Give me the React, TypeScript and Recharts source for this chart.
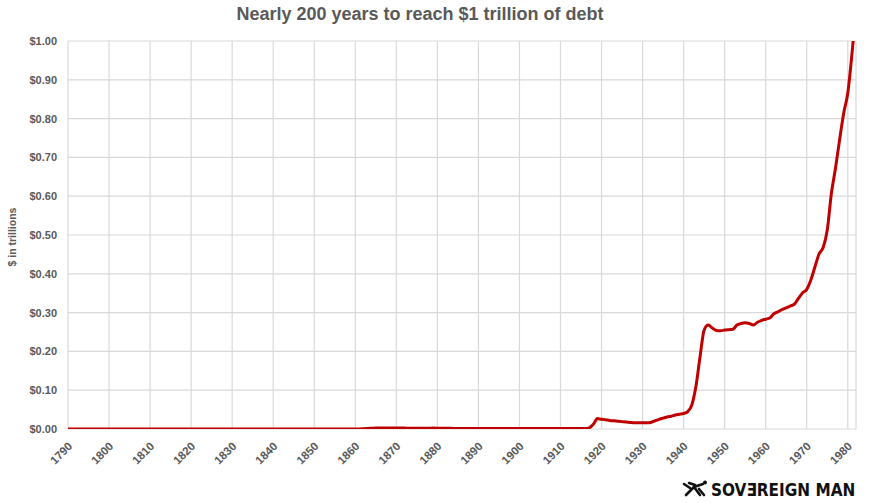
import React from 'react';
import { LineChart, Line, XAxis, YAxis, CartesianGrid } from 'recharts';

// US federal debt, $ trillions, one value per year starting 1790
const debtEarly = [
  0.0001, 0.0001, 0.0001, 0.0001, 0.0001, 0.0001, 0.0001, 0.0001, 0.0001, 0.0001, // 1790s
  0.0001, 0.0001, 0.0001, 0.0001, 0.0001, 0.0001, 0.0001, 0.0001, 0.0001, 0.0001, // 1800s
  0.0000, 0.0000, 0.0001, 0.0001, 0.0001, 0.0001, 0.0001, 0.0001, 0.0001, 0.0001, // 1810s
  0.0001, 0.0001, 0.0001, 0.0001, 0.0001, 0.0001, 0.0001, 0.0001, 0.0001, 0.0000, // 1820s
  0.0000, 0.0000, 0.0000, 0.0000, 0.0000, 0.0000, 0.0000, 0.0000, 0.0000, 0.0000, // 1830s
  0.0000, 0.0000, 0.0000, 0.0000, 0.0000, 0.0000, 0.0000, 0.0000, 0.0000, 0.0001, // 1840s
  0.0001, 0.0001, 0.0001, 0.0001, 0.0000, 0.0000, 0.0000, 0.0000, 0.0000, 0.0001, // 1850s
  0.0001, // 1860
];
const debtCivilWarEra = [
  0.0001, 0.0005, 0.0011, 0.0018, 0.0027, 0.0028, 0.0027, 0.0026, 0.0026, // 1861-1869
  0.0025, 0.0023, 0.0023, 0.0022, 0.0022, 0.0022, 0.0021, 0.0021, 0.0022, 0.0023, // 1870s
  0.0021, 0.002, 0.0019, 0.0017, 0.0016, 0.0016, 0.0015, 0.0013, 0.0012, 0.0011, // 1880s
  0.0011, 0.001, 0.001, 0.001, 0.001, 0.0011, 0.0012, 0.0012, 0.0012, 0.0014, // 1890s
  0.0013, 0.0012, 0.0012, 0.0012, 0.0012, 0.0012, 0.0011, 0.0011, 0.0012, 0.0012, // 1900s
  0.0011, 0.0012, 0.0012, 0.0012, 0.0012, 0.0012, 0.0012, // 1910-1916
];
const debtWorldWarEra = [
  0.003, 0.012, 0.027, // 1917-1919
  0.025, 0.024, 0.022, 0.021, 0.02, 0.019, 0.018, 0.017, 0.016, 0.016, // 1920s
  0.016, 0.016, 0.017, 0.021, 0.025, 0.028, 0.031, 0.033, 0.036, 0.038, // 1930s
  0.04, 0.045, 0.062, 0.11, 0.186, 0.255, // 1940-1945
];
const debtPostwar = [
  0.268, 0.26, 0.254, 0.253, // 1946-1949
  0.255, 0.256, 0.257, 0.268, 0.272, 0.274, 0.272, 0.268, 0.275, 0.28, // 1950s
  0.283, 0.286, 0.297, 0.302, 0.308, 0.312, 0.317, 0.322, 0.337, 0.351, // 1960s
  0.36, 0.384, 0.418, 0.451, 0.468, 0.513, 0.607, 0.672, 0.745, 0.814, // 1970s
  0.866, 0.965, 1.08, // 1980-1982
];

const firstYear = 1790;
const xTicks = [1790, 1800, 1810, 1820, 1830, 1840, 1850, 1860, 1870, 1880, 1890, 1900, 1910, 1920, 1930, 1940, 1950, 1960, 1970, 1980];
const yTicks = [0, 0.1, 0.2, 0.3, 0.4, 0.5, 0.6, 0.7, 0.8, 0.9, 1.0];

const chartData = [...debtEarly, ...debtCivilWarEra, ...debtWorldWarEra, ...debtPostwar].map((debt, i) => ({
  year: firstYear + i,
  debt,
}));

const FONT = '"Liberation Sans", Arial, sans-serif';
const GRAY = '#595959';

const YearTick = ({ x, y, payload }: any) => (
  <g transform={`translate(${x + 5},${y + 10}) rotate(-45)`}>
    <text x={0} y={0} textAnchor="end" fill={GRAY} fontSize={11.5} fontWeight="bold" fontFamily={FONT}>
      {payload.value}
    </text>
  </g>
);

export default function App() {
  return (
    <div style={{ position: 'relative', width: 869, height: 503, background: '#fff' }}>
      <style>{'body{margin:0}'}</style>
      <LineChart width={869} height={503} data={chartData} margin={{ top: 41, right: 13, bottom: 0, left: 0 }}>
        <CartesianGrid stroke="#d9d9d9" strokeWidth={1.2} />
        <XAxis
          dataKey="year"
          type="number"
          domain={[1790, 1982]}
          ticks={xTicks}
          height={74}
          axisLine={false}
          tickLine={false}
          interval={0}
          tick={<YearTick />}
        />
        <YAxis
          type="number"
          domain={[0, 1]}
          ticks={yTicks}
          allowDataOverflow
          width={68}
          axisLine={false}
          tickLine={false}
          tickMargin={5}
          tickFormatter={(v: number) => `$${v.toFixed(2)}`}
          tick={{ fill: GRAY, fontSize: 11, fontWeight: 'bold', fontFamily: FONT }}
        />
        <Line
          type="monotone"
          dataKey="debt"
          stroke="#c00000"
          strokeWidth={3}
          dot={false}
          isAnimationActive={false}
        />
      </LineChart>
      <svg width={869} height={503} style={{ position: 'absolute', left: 0, top: 0, pointerEvents: 'none' }}>
        <text x={420} y={19.5} textAnchor="middle" fill={GRAY} fontSize={18} fontWeight="bold" fontFamily={FONT}>
          Nearly 200 years to reach $1 trillion of debt
        </text>
        <text
          x={0}
          y={0}
          transform="translate(16,237) rotate(-90)"
          textAnchor="middle"
          fill={GRAY}
          fontSize={10.5}
          fontWeight="bold"
          fontFamily={FONT}
        >
          $ in trillions
        </text>
        {/* leaping figure of the logo */}
        <g stroke="#111" strokeWidth={2.6} strokeLinecap="round" fill="none">
          <path d="M686 495 L694 487 L703 484" />
          <path d="M684 484 L690 488" />
          <path d="M694 487 L700 495" />
          <path d="M699 489 L704 495" />
          <path d="M689 483 L695 485" />
        </g>
        <circle cx={705} cy={482.5} r={2} fill="#111" />
        <text
          x={711}
          y={495.5}
          fill="#111"
          fontSize={17}
          fontWeight="bold"
          fontFamily='"DejaVu Sans Condensed", "DejaVu Sans", sans-serif'
        >
          SOVƎREIGN MAN
        </text>
      </svg>
    </div>
  );
}
